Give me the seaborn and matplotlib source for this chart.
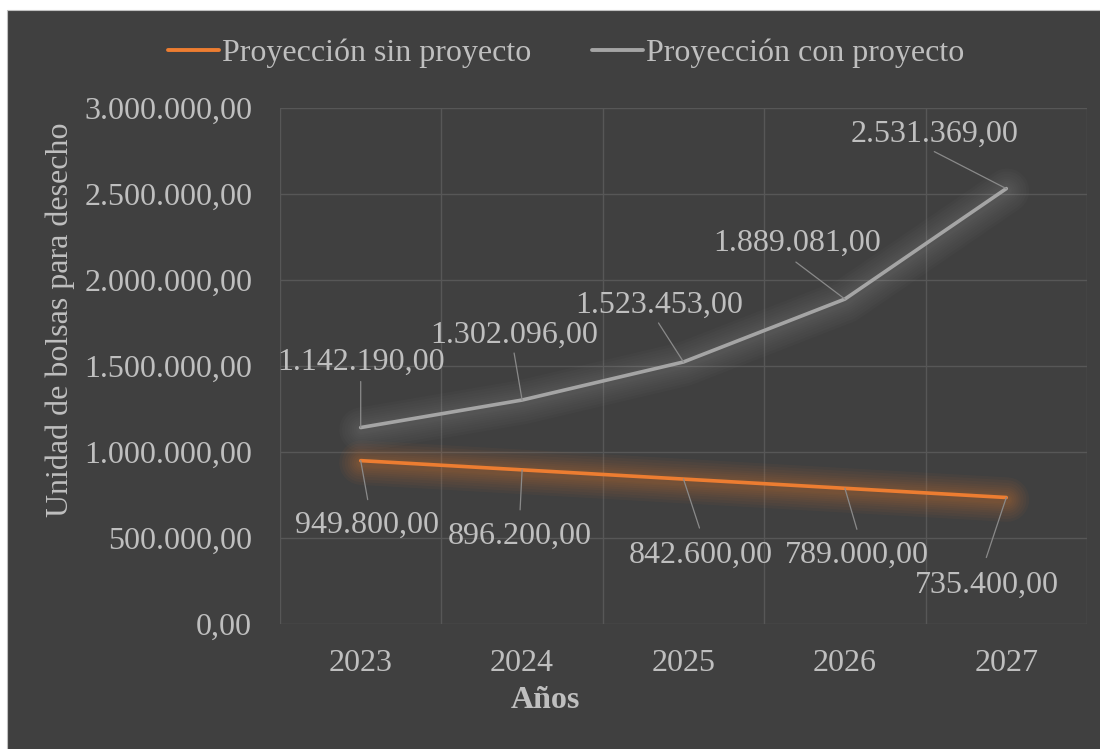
import matplotlib
matplotlib.use("Agg")
import matplotlib.pyplot as plt
import matplotlib.patheffects as pe
from matplotlib.lines import Line2D
from matplotlib.patches import Rectangle
from matplotlib.ticker import FuncFormatter, MultipleLocator, FixedLocator
import pandas as pd
import seaborn as sns

# --- data ---------------------------------------------------------------
years = ["2023", "2024", "2025", "2026", "2027"]
sin_proyecto = [949800.00, 896200.00, 842600.00, 789000.00, 735400.00]
con_proyecto = [1142190.00, 1302096.00, 1523453.00, 1889081.00, 2531369.00]
series_names = ["Proyección sin proyecto", "Proyección con proyecto"]
y_label = "Unidad de bolsas para desecho"
x_label = "Años"

# --- style --------------------------------------------------------------
BG = "#404040"
TXT = "#bfbfbf"
GRID = "#575757"
ORANGE = "#ed7d31"
GREY = "#a5a5a5"
FS = 23

sns.set_theme(style="dark", rc={"axes.facecolor": BG})
plt.rcParams["font.family"] = ["Liberation Serif", "DejaVu Serif"]

W, H = 1100, 749
fig = plt.figure(figsize=(W / 100, H / 100), dpi=100, facecolor="white")

# dark chart panel with a thin light border
fig.add_artist(Rectangle((6.5 / W, -0.1), 2.0, (H - 10.5) / H + 0.1,
                         transform=fig.transFigure, facecolor=BG,
                         edgecolor="#c0c0c0", linewidth=0.8, zorder=-1))

ax = fig.add_axes([280 / W, 1 - 624 / H, (1087 - 280) / W, (624 - 108) / H])
ax.set_facecolor(BG)

df = pd.DataFrame({
    "Año": years * 2,
    "Valor": sin_proyecto + con_proyecto,
    "Serie": [series_names[0]] * len(years) + [series_names[1]] * len(years),
})

sns.lineplot(data=df, x="Año", y="Valor", hue="Serie", sort=False,
             palette=[ORANGE, GREY], linewidth=2.6, legend=False, ax=ax)

# soft glow around each series
for line, col, a in zip(ax.lines, [ORANGE, GREY], [0.045, 0.03]):
    glow = [pe.Stroke(linewidth=w, foreground=col, alpha=a,
                      capstyle="round", joinstyle="round", offset=(0.5, -1.5))
            for w in (32, 28, 24, 20, 17, 14, 11, 8, 6)]
    line.set_path_effects(glow + [pe.Normal()])
    line.set_solid_capstyle("round")
    line.set_solid_joinstyle("round")

# axes, grid and ticks
ax.set_xlim(-0.5, len(years) - 0.5)
ax.set_ylim(0, 3000000)
ax.yaxis.set_major_locator(MultipleLocator(500000))
ax.xaxis.set_minor_locator(FixedLocator([i - 0.5 for i in range(len(years) + 1)]))


def fmt_es(v, _pos=None):
    s = f"{v:,.2f}"
    return s.replace(",", "X").replace(".", ",").replace("X", ".")


ax.yaxis.set_major_formatter(FuncFormatter(fmt_es))
ax.grid(False)
ax.grid(True, axis="y", which="major", color=GRID, linewidth=1.0)
ax.grid(True, axis="x", which="minor", color=GRID, linewidth=1.0)
for sp in ax.spines.values():
    sp.set_visible(False)
ax.tick_params(axis="both", which="both", length=0, colors=TXT, labelsize=FS)
ax.tick_params(axis="y", pad=20)
ax.tick_params(axis="x", pad=18)
ax.set_xlabel("")
ax.set_ylabel("")

fig.text(60 / W, 1 - 320 / H, y_label, rotation=90, ha="center", va="center",
         color=TXT, fontsize=FS)
fig.text(545 / W, 1 - 701 / H, x_label, ha="center", va="center",
         color=TXT, fontsize=FS, fontweight="bold")

# data labels with leader lines (offsets in pixels)
label_off_sin = [(6, -62), (-2, -63), (17, -73), (12, -64), (-19, -85)]
leader_sin = [(7, -39), (-2, -40), (16, -49), (12, -41), (-20, -60)]
label_off_con = [(0, 68), (-8, 68), (-24, 60), (-48, 59), (-72, 57)]
leader_con = [(0, 46), (-8, 47), (-25, 39), (-49, 37), (-72, 37)]

for vals, offs, leads in ((sin_proyecto, label_off_sin, leader_sin),
                          (con_proyecto, label_off_con, leader_con)):
    for i, v in enumerate(vals):
        ax.annotate("", xy=(i, v), xytext=leads[i], textcoords="offset pixels",
                    arrowprops=dict(arrowstyle="-", color="#8a8a8a", lw=0.9,
                                    shrinkA=0, shrinkB=0), annotation_clip=False)
        ax.annotate(fmt_es(v), xy=(i, v),
                    xytext=(offs[i][0], offs[i][1] - 3), textcoords="offset pixels",
                    ha="center", va="center", color=TXT, fontsize=FS,
                    annotation_clip=False)

# legend
handles = [Line2D([], [], color=ORANGE, linewidth=2.8, solid_capstyle="round"),
           Line2D([], [], color=GREY, linewidth=2.8, solid_capstyle="round")]
fig.legend(handles, series_names, loc="center", ncol=2,
           bbox_to_anchor=(566 / W, 1 - 53 / H), frameon=False,
           fontsize=FS, labelcolor=TXT, handlelength=1.6, handletextpad=0.1,
           columnspacing=1.9, borderpad=0.0)

fig.savefig("out.png", dpi=100, facecolor="white")
